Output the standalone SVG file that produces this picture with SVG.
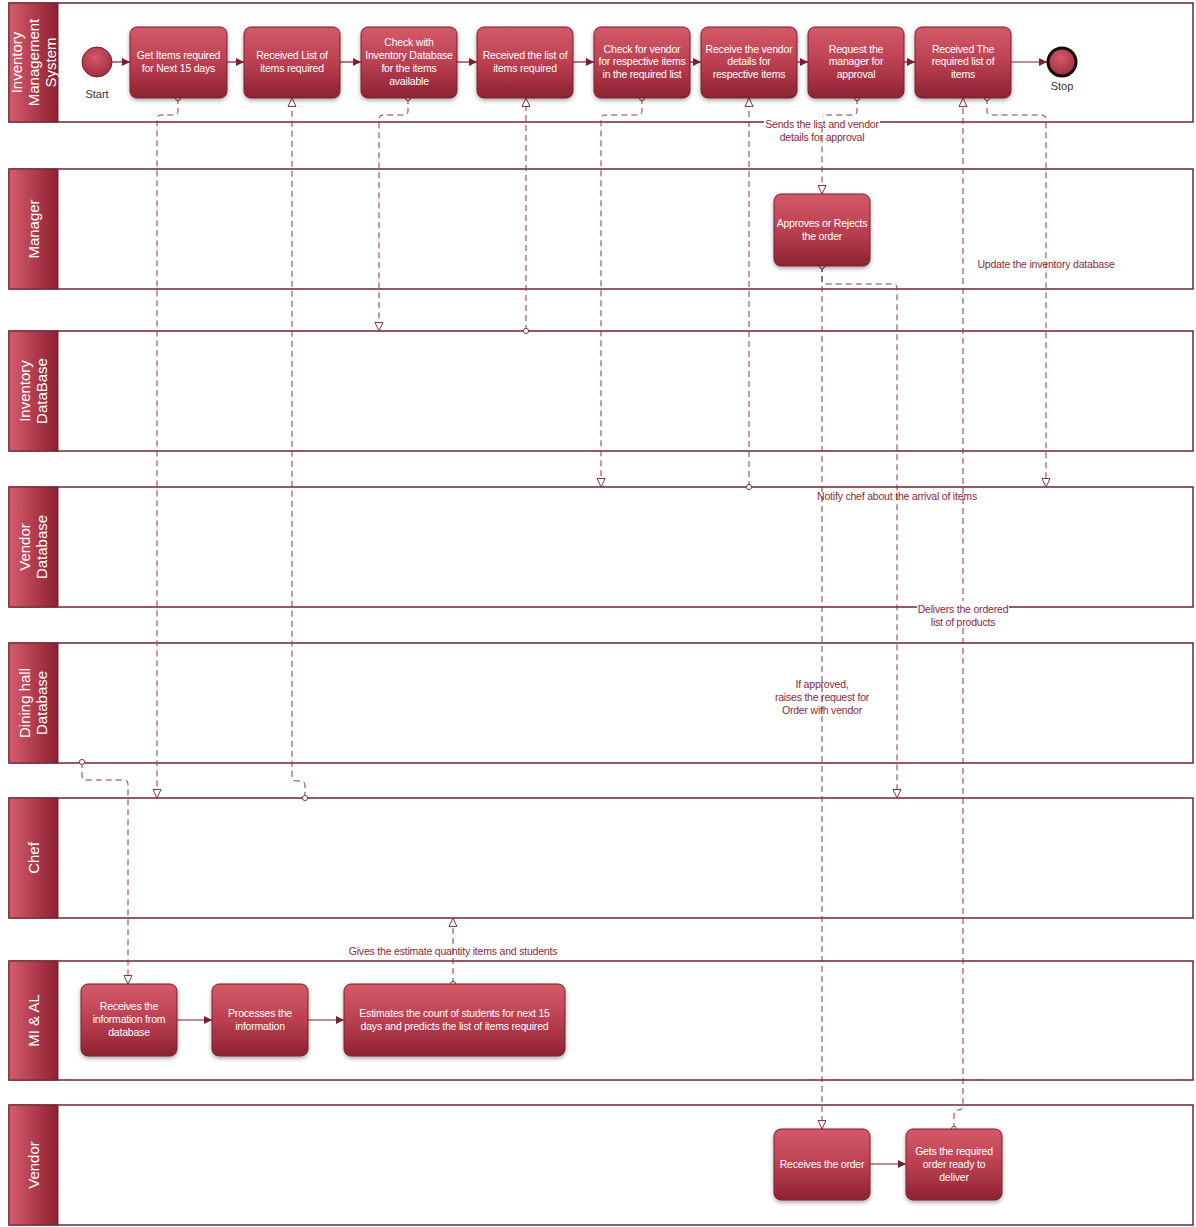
<svg xmlns="http://www.w3.org/2000/svg" width="1196" height="1227" viewBox="0 0 1196 1227">
<defs>
<linearGradient id="boxG" x1="0" y1="0" x2="0" y2="1">
<stop offset="0" stop-color="#d45a6a"/><stop offset="0.5" stop-color="#bb4051"/><stop offset="1" stop-color="#8c2232"/>
</linearGradient>
<linearGradient id="hdrG" x1="0" y1="0" x2="1" y2="0">
<stop offset="0" stop-color="#d65c6c"/><stop offset="1" stop-color="#8c1f30"/>
</linearGradient>
<radialGradient id="evG" cx="0.45" cy="0.35" r="0.7">
<stop offset="0" stop-color="#d45a6a"/><stop offset="1" stop-color="#9a2a3a"/>
</radialGradient>
<filter id="sh" x="-10%" y="-10%" width="120%" height="130%">
<feDropShadow dx="0" dy="2" stdDeviation="2" flood-color="#000" flood-opacity="0.35"/>
</filter>
<marker id="aF" markerUnits="userSpaceOnUse" markerWidth="9" markerHeight="8" refX="8" refY="4" orient="auto">
<path d="M0,0 L8,4 L0,8 z" fill="#7a2030"/>
</marker>
<marker id="aO" markerUnits="userSpaceOnUse" markerWidth="11" markerHeight="10" refX="9.5" refY="5" orient="auto">
<path d="M1,1 L9.5,5 L1,9 z" fill="#fff" stroke="#8a3545" stroke-width="1"/>
</marker>
<marker id="cS" markerUnits="userSpaceOnUse" markerWidth="8" markerHeight="8" refX="4" refY="4" orient="auto">
<circle cx="4" cy="4" r="2.6" fill="#fff" stroke="#8a3545" stroke-width="1"/>
</marker>
<style>
.lane{fill:#fff;stroke:#6b2734;stroke-width:1.5}
.hdr{fill:url(#hdrG);stroke:#6b2734;stroke-width:1}
.ht{font-family:"Liberation Sans",Arial,sans-serif;font-size:15px;fill:#fff;text-anchor:middle}
.box{fill:url(#boxG);stroke:#7a1f2e;stroke-width:1;filter:url(#sh)}
.bt{font-family:"Liberation Sans",Arial,sans-serif;font-size:10.5px;letter-spacing:-0.2px;fill:#fff;text-anchor:middle}
.seq{fill:none;stroke:#7a2030;stroke-width:1.2;marker-end:url(#aF)}
.msg{fill:none;stroke:#8a3545;stroke-width:1;stroke-dasharray:6,4;marker-start:url(#cS);marker-end:url(#aO)}
.lbl{font-family:"Liberation Sans",Arial,sans-serif;font-size:10.5px;letter-spacing:-0.2px;fill:#8b2a3a;text-anchor:middle}
.ev{font-family:"Liberation Sans",Arial,sans-serif;font-size:11px;fill:#333;text-anchor:middle}
</style>
</defs>
<rect width="1196" height="1227" fill="#fff"/>

<g id="lanes">
<g id="lane-ims"><rect class="lane" x="9" y="3" width="1184" height="119"/><rect class="hdr" x="9" y="3" width="49" height="119"/>
<text class="ht" transform="translate(33.5,62.5) rotate(-90)"><tspan x="0" y="-12">Inventory</tspan><tspan x="0" y="5">Management</tspan><tspan x="0" y="22">System</tspan></text></g>
<g id="lane-manager"><rect class="lane" x="9" y="169" width="1184" height="120"/><rect class="hdr" x="9" y="169" width="49" height="120"/>
<text class="ht" transform="translate(33.5,229) rotate(-90)"><tspan x="0" y="5">Manager</tspan></text></g>
<g id="lane-invdb"><rect class="lane" x="9" y="331" width="1184" height="120"/><rect class="hdr" x="9" y="331" width="49" height="120"/>
<text class="ht" transform="translate(33.5,391) rotate(-90)"><tspan x="0" y="-3.5">Inventory</tspan><tspan x="0" y="13.5">DataBase</tspan></text></g>
<g id="lane-vendordb"><rect class="lane" x="9" y="487" width="1184" height="120"/><rect class="hdr" x="9" y="487" width="49" height="120"/>
<text class="ht" transform="translate(33.5,547) rotate(-90)"><tspan x="0" y="-3.5">Vendor</tspan><tspan x="0" y="13.5">Database</tspan></text></g>
<g id="lane-dining"><rect class="lane" x="9" y="643" width="1184" height="120"/><rect class="hdr" x="9" y="643" width="49" height="120"/>
<text class="ht" transform="translate(33.5,703) rotate(-90)"><tspan x="0" y="-3.5">Dining hall</tspan><tspan x="0" y="13.5">Database</tspan></text></g>
<g id="lane-chef"><rect class="lane" x="9" y="798" width="1184" height="120"/><rect class="hdr" x="9" y="798" width="49" height="120"/>
<text class="ht" transform="translate(33.5,858) rotate(-90)"><tspan x="0" y="5">Chef</tspan></text></g>
<g id="lane-mial"><rect class="lane" x="9" y="961" width="1184" height="119"/><rect class="hdr" x="9" y="961" width="49" height="119"/>
<text class="ht" transform="translate(33.5,1020.5) rotate(-90)"><tspan x="0" y="5">MI &amp; AL</tspan></text></g>
<g id="lane-vendor"><rect class="lane" x="9" y="1105" width="1184" height="120"/><rect class="hdr" x="9" y="1105" width="49" height="120"/>
<text class="ht" transform="translate(33.5,1165) rotate(-90)"><tspan x="0" y="5">Vendor</tspan></text></g>
</g>

<g id="connectors">
<path class="seq" d="M112,62 H130"/>
<path class="seq" d="M227,62 H244"/>
<path class="seq" d="M340,62 H361"/>
<path class="seq" d="M457,62 H477"/>
<path class="seq" d="M573,62 H594"/>
<path class="seq" d="M690,62 H701"/>
<path class="seq" d="M797,62 H808"/>
<path class="seq" d="M904,62 H915"/>
<path class="seq" d="M1011,62 H1047"/>
<path class="seq" d="M177,1020 H212"/>
<path class="seq" d="M308,1020 H344"/>
<path class="seq" d="M870,1164 H906"/>

<path class="msg" d="M178,98 V111 Q178,115 174,115 H161 Q157,115 157,119 V798"/>
<path class="msg" d="M305,798 V786 Q305,781 300,781 H297 Q292,781 292,776 V98"/>
<path class="msg" d="M408,98 V111 Q408,115 404,115 H383 Q379,115 379,119 V331"/>
<path class="msg" d="M526,331 V98"/>
<path class="msg" d="M642,98 V111 Q642,115 638,115 H605 Q601,115 601,119 V487"/>
<path class="msg" d="M749,487 V98"/>
<path class="msg" d="M857,98 V111 Q857,115 853,115 H826 Q822,115 822,119 V194"/>
<path class="msg" d="M822,266 V280 Q822,284 826,284 H893 Q897,284 897,288 V798"/>
<path class="msg" d="M822,266 V1129"/>
<path class="msg" d="M954,1129 V1115 Q954,1110 958.5,1110 Q963,1110 963,1105 V98"/>
<path class="msg" d="M987,98 V111 Q987,115 991,115 H1042 Q1046,115 1046,119 V487"/>
<path class="msg" d="M82,762 V776 Q82,780 86,780 H124 Q128,780 128,784 V984"/>
<path class="msg" d="M453,984 V918"/>
</g>

<g id="labels">
<rect x="764" y="117" width="116" height="10" fill="#fff"/>
<text class="lbl" x="822" y="128">Sends the list and vendor</text>
<text class="lbl" x="822" y="141">details for approval</text>
<text class="lbl" x="1046" y="268">Update the inventory database</text>
<text class="lbl" x="897" y="500">Notify chef about the arrival of items</text>
<rect x="917" y="601" width="92" height="26" fill="#fff"/>
<text class="lbl" x="963" y="613">Delivers the ordered</text>
<text class="lbl" x="963" y="626">list of products</text>
<text class="lbl" x="822" y="688">If approved,</text>
<text class="lbl" x="822" y="701">raises the request for</text>
<text class="lbl" x="822" y="714">Order with vendor</text>
<text class="lbl" x="453" y="955">Gives the estimate quantity items and students</text>
</g>

<g id="nodes">
<g id="start"><circle cx="97" cy="62" r="15" fill="url(#evG)" stroke="#7a1f2e" stroke-width="1"/><text class="ev" x="97" y="98">Start</text></g>
<g id="stop"><circle cx="1062" cy="62" r="14" fill="url(#evG)" stroke="#1a0a0d" stroke-width="3"/><text class="ev" x="1062" y="90">Stop</text></g>
<g id="n1"><rect class="box" x="130" y="27" width="97" height="71" rx="7"/><text class="bt" x="178.5" y="59">Get Items required</text><text class="bt" x="178.5" y="72">for Next 15 days</text></g>
<g id="n2"><rect class="box" x="244" y="27" width="96" height="71" rx="7"/><text class="bt" x="292" y="59">Received List of</text><text class="bt" x="292" y="72">items required</text></g>
<g id="n3"><rect class="box" x="361" y="27" width="96" height="71" rx="7"/><text class="bt" x="409" y="46">Check with</text><text class="bt" x="409" y="59">Inventory Database</text><text class="bt" x="409" y="72">for the items</text><text class="bt" x="409" y="85">available</text></g>
<g id="n4"><rect class="box" x="477" y="27" width="96" height="71" rx="7"/><text class="bt" x="525" y="59">Received the list of</text><text class="bt" x="525" y="72">items required</text></g>
<g id="n5"><rect class="box" x="594" y="27" width="96" height="71" rx="7"/><text class="bt" x="642" y="53">Check for vendor</text><text class="bt" x="642" y="65">for respective items</text><text class="bt" x="642" y="78">in the required list</text></g>
<g id="n6"><rect class="box" x="701" y="27" width="96" height="71" rx="7"/><text class="bt" x="749" y="53">Receive the vendor</text><text class="bt" x="749" y="65">details for</text><text class="bt" x="749" y="78">respective items</text></g>
<g id="n7"><rect class="box" x="808" y="27" width="96" height="71" rx="7"/><text class="bt" x="856" y="53">Request the</text><text class="bt" x="856" y="65">manager for</text><text class="bt" x="856" y="78">approval</text></g>
<g id="n8"><rect class="box" x="915" y="27" width="96" height="71" rx="7"/><text class="bt" x="963" y="53">Received The</text><text class="bt" x="963" y="65">required list of</text><text class="bt" x="963" y="78">items</text></g>
<g id="n9"><rect class="box" x="774" y="194" width="96" height="72" rx="7"/><text class="bt" x="822" y="227">Approves or Rejects</text><text class="bt" x="822" y="240">the order</text></g>
<g id="n10"><rect class="box" x="81" y="984" width="96" height="72" rx="7"/><text class="bt" x="129" y="1010">Receives the</text><text class="bt" x="129" y="1023">information from</text><text class="bt" x="129" y="1036">database</text></g>
<g id="n11"><rect class="box" x="212" y="984" width="96" height="72" rx="7"/><text class="bt" x="260" y="1017">Processes the</text><text class="bt" x="260" y="1030">information</text></g>
<g id="n12"><rect class="box" x="344" y="984" width="221" height="72" rx="7"/><text class="bt" x="454.5" y="1017">Estimates the count of students for next 15</text><text class="bt" x="454.5" y="1030">days and predicts the list of items required</text></g>
<g id="n13"><rect class="box" x="774" y="1129" width="96" height="71" rx="7"/><text class="bt" x="822" y="1168">Receives the order</text></g>
<g id="n14"><rect class="box" x="906" y="1129" width="96" height="71" rx="7"/><text class="bt" x="954" y="1155">Gets the required</text><text class="bt" x="954" y="1168">order ready to</text><text class="bt" x="954" y="1181">deliver</text></g>
</g>
</svg>
